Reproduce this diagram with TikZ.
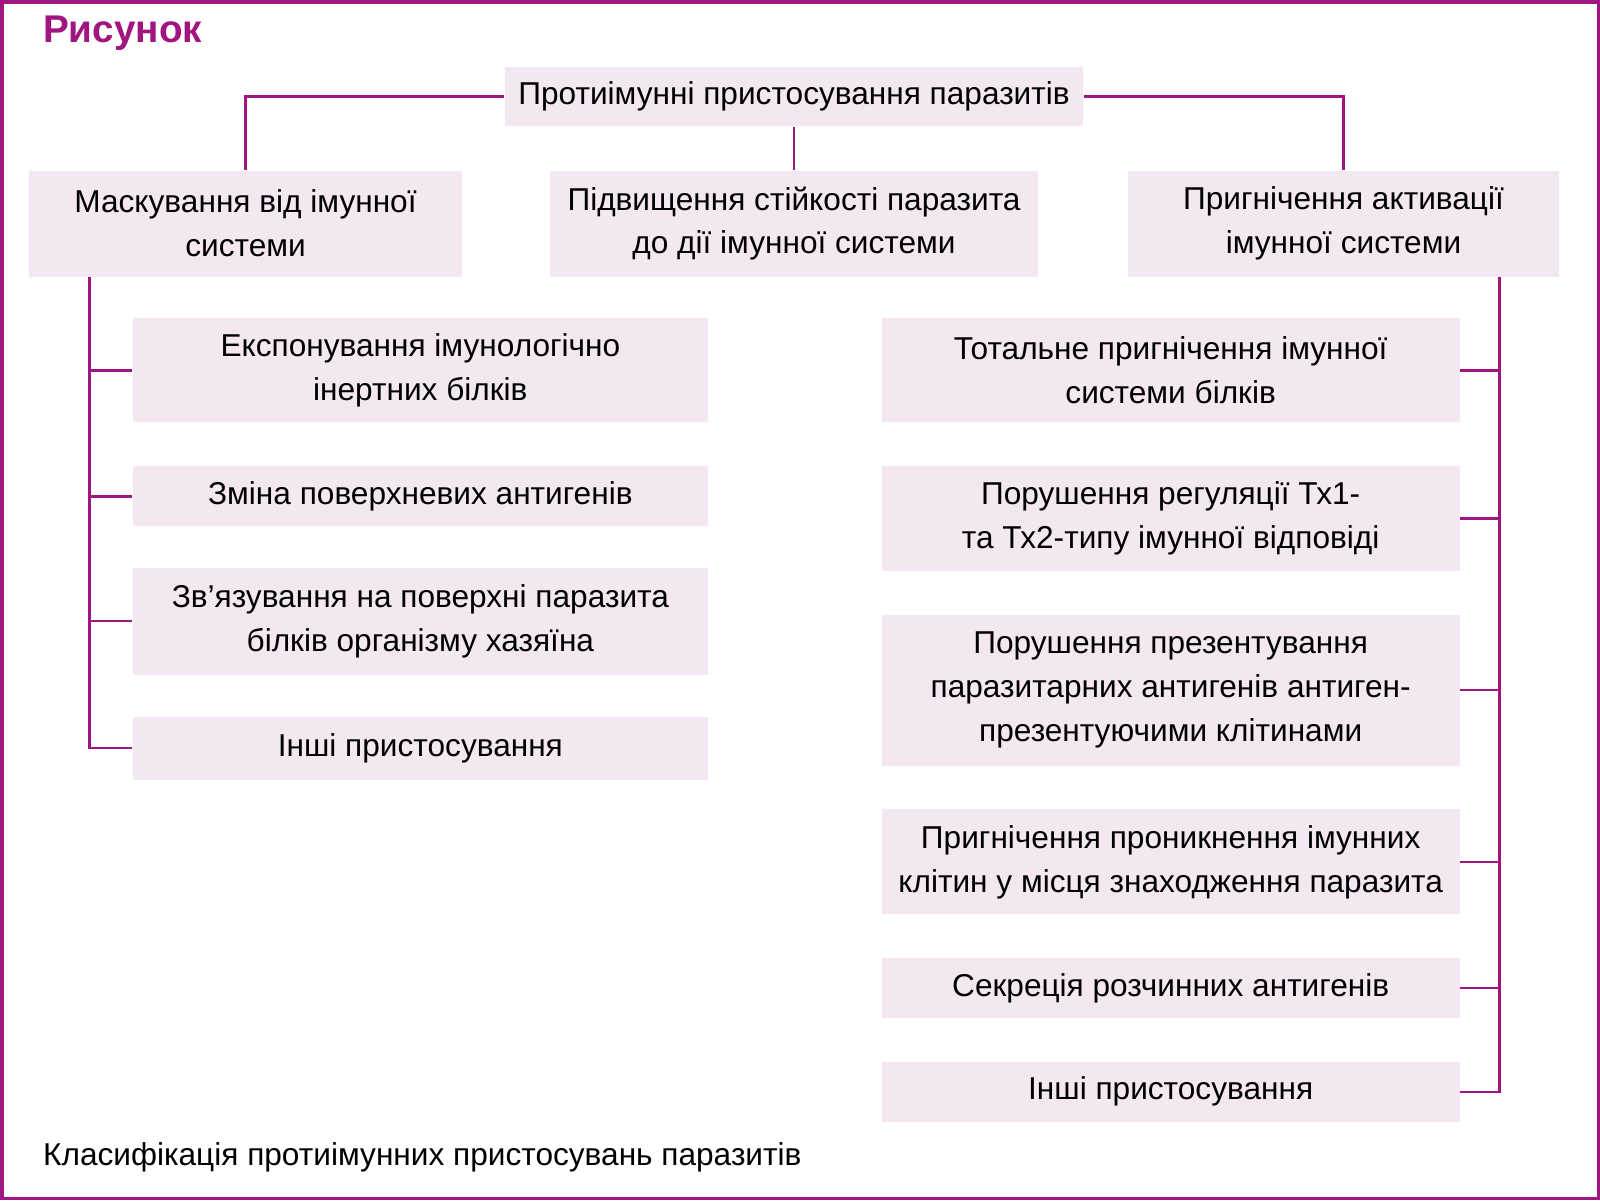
\documentclass[tikz,border=0pt]{standalone}
\usepackage{fontspec}
\setmainfont{Liberation Sans}
\definecolor{plum}{HTML}{A0157F}
\definecolor{pinkbox}{HTML}{F3E7F1}
\begin{document}
\begin{tikzpicture}
        [x=0.01cm, y=-0.01cm,
        box/.style={fill=pinkbox, inner sep=0pt, align=center, font=\fontsize{9}{12.5}\selectfont},
        link/.style={plum, line width=0.7pt},
        ]

        \draw[plum, line width=1pt, fill=white] (1,1) rectangle (1599,1199);
        \node[anchor=west, font=\bfseries\fontsize{11}{13}\selectfont, text=plum] (title) at (30,32) {Рисунок};

        \node[box, minimum width=5.78cm, minimum height=0.59cm] (top) at (794,96) {Протиімунні пристосування паразитів};

        \node[box, minimum width=4.34cm, minimum height=1.06cm] (mask) at (245,223) {Маскування від імунної\\системи};
        \node[box, minimum width=4.89cm, minimum height=1.06cm] (resist) at (794,223) {Підвищення стійкості паразита\\до дії імунної системи};
        \node[box, minimum width=4.32cm, minimum height=1.06cm] (supp) at (1344,223) {Пригнічення активації\\імунної системи};

        % left column
        \node[box, minimum width=5.75cm, minimum height=1.04cm] (l1) at (420,370) {Експонування імунологічно\\інертних білків};
        \node[box, minimum width=5.75cm, minimum height=0.60cm] (l2) at (420,496) {Зміна поверхневих антигенів};
        \node[box, minimum width=5.75cm, minimum height=1.07cm] (l3) at (420,621) {Зв’язування на поверхні паразита\\білків організму хазяїна};
        \node[box, minimum width=5.75cm, minimum height=0.63cm] (l4) at (420,748) {Інші пристосування};

        % right column
        \node[box, minimum width=5.78cm, minimum height=1.04cm] (r1) at (1171,370) {Тотальне пригнічення імунної\\системи білків};
        \node[box, minimum width=5.78cm, minimum height=1.05cm] (r2) at (1171,518) {Порушення регуляції Тх1-\\та Тх2-типу імунної відповіді};
        \node[box, minimum width=5.78cm, minimum height=1.51cm] (r3) at (1171,690) {Порушення презентування\\паразитарних антигенів антиген-\\презентуючими клітинами};
        \node[box, minimum width=5.78cm, minimum height=1.05cm] (r4) at (1171,862) {Пригнічення проникнення імунних\\клітин у місця знаходження паразита};
        \node[box, minimum width=5.78cm, minimum height=0.60cm] (r5) at (1171,988) {Секреція розчинних антигенів};
        \node[box, minimum width=5.78cm, minimum height=0.60cm] (r6) at (1171,1092) {Інші пристосування};

        \node[anchor=west, font=\fontsize{9}{11}\selectfont] (caption) at (30,1158) {Класифікація протиімунних пристосувань паразитів};

        \draw[link] (top.west) -| (mask.north);
        \draw[link] (top.east) -| (supp.north);
        \draw[link] (top.south) -- (resist.north);

        \coordinate (ls) at (89,276);
        \draw[link] (ls) |- (l4.west);
        \foreach \n in {l1,l2,l3}
            \draw[link] (ls |- \n.west) -- (\n.west);

        \coordinate (rs) at (1500,276);
        \draw[link] (rs) |- (r6.east);
        \foreach \n in {r1,r2,r3,r4,r5}
            \draw[link] (rs |- \n.east) -- (\n.east);
    \end{tikzpicture}
\end{document}
